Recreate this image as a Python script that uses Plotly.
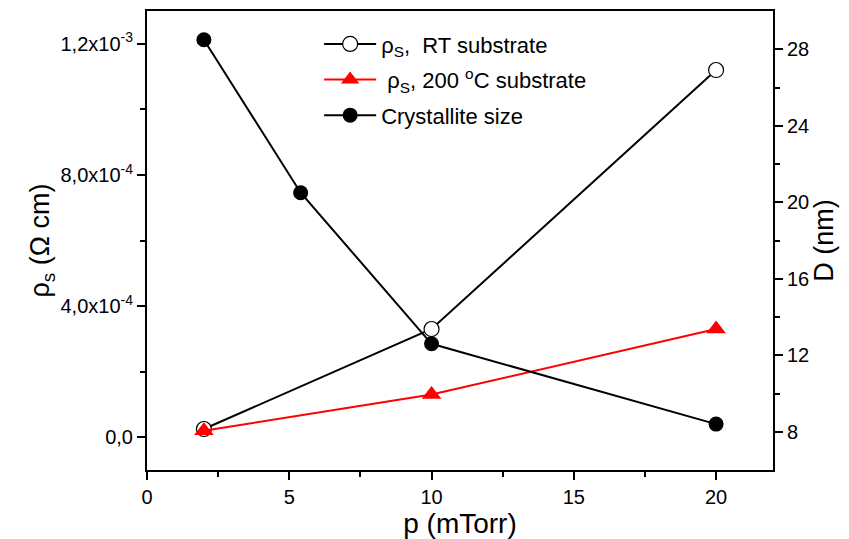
import plotly.graph_objects as go

# Data
p_rt = [2, 10, 20]
rho_rt = [2.5e-5, 3.3e-4, 1.12e-3]
p_200 = [2, 10, 20]
rho_200 = [2.0e-5, 1.3e-4, 3.3e-4]
p_d = [2, 5.4, 10, 20]
D_nm = [28.5, 20.5, 12.6, 8.4]

left_tickvals = [0, 4e-4, 8e-4, 1.2e-3]
left_ticktext = ["0,0", "4,0x10<sup>-4</sup>", "8,0x10<sup>-4</sup>", "1,2x10<sup>-3</sup>"]
right_tickvals = [8, 12, 16, 20, 24, 28]
x_tickvals = [0, 5, 10, 15, 20]

FONT = "Liberation Sans, Arial, sans-serif"

fig = go.Figure()
fig.add_trace(go.Scatter(
    x=p_rt, y=rho_rt, name="ρ<sub>S</sub>,  RT substrate", mode="lines+markers",
    legendgroup="a",
    line=dict(color="black", width=2),
    marker=dict(symbol="circle", size=15, color="white", line=dict(color="black", width=1.2)),
    yaxis="y"))
fig.add_trace(go.Scatter(
    x=p_200, y=rho_200, name=" ρ<sub>S</sub>, 200 <sup>o</sup>C substrate", mode="lines+markers",
    legendgroup="b",
    line=dict(color="red", width=2),
    marker=dict(symbol="triangle-up", size=17, color="red", line=dict(color="red", width=0)),
    yaxis="y"))
fig.add_trace(go.Scatter(
    x=p_d, y=D_nm, name="Crystallite size", mode="lines+markers",
    legendgroup="c",
    line=dict(color="black", width=2),
    marker=dict(symbol="circle", size=15, color="black"),
    yaxis="y2"))

axis_common = dict(showline=True, linecolor="black", linewidth=2, ticks="outside",
                   ticklen=8, tickwidth=2, tickcolor="black", showgrid=False, zeroline=False,
                   tickfont=dict(size=20, color="black", family=FONT))

fig.update_layout(
    width=849, height=539,
    margin=dict(l=147, r=76, t=9, b=69),
    paper_bgcolor="white", plot_bgcolor="white",
    font=dict(family=FONT, color="black"),
    xaxis=dict(range=[0, 22], tickvals=x_tickvals, mirror=True,
               minor=dict(tickvals=[2.5, 7.5, 12.5, 17.5], ticks="outside", ticklen=5, tickwidth=1.5, tickcolor="black"),
               title=dict(text="p (mTorr)", font=dict(size=28, family=FONT), standoff=0),
               **axis_common),
    yaxis=dict(range=[-1e-4, 1.3e-3], tickvals=left_tickvals, ticktext=left_ticktext,
               minor=dict(tickvals=[2e-4, 6e-4, 1e-3], ticks="outside", ticklen=5, tickwidth=1.5, tickcolor="black"),
               title=dict(text="ρ<sub>s</sub> (Ω cm)", font=dict(size=27, family=FONT), standoff=3),
               **axis_common),
    yaxis2=dict(range=[6, 30], tickvals=right_tickvals, overlaying="y", side="right",
                minor=dict(tickvals=[10, 14, 18, 22, 26], ticks="outside", ticklen=5, tickwidth=1.5, tickcolor="black"),
                title=dict(text="D (nm)", font=dict(size=27, family=FONT), standoff=0),
                **axis_common),
    legend=dict(x=0.275, y=0.9735, xanchor="left", yanchor="top", bgcolor="rgba(0,0,0,0)",
                font=dict(size=22, family=FONT, color="black"), tracegroupgap=4,
                itemwidth=52),
    showlegend=True,
)

fig.write_html("out.html")
